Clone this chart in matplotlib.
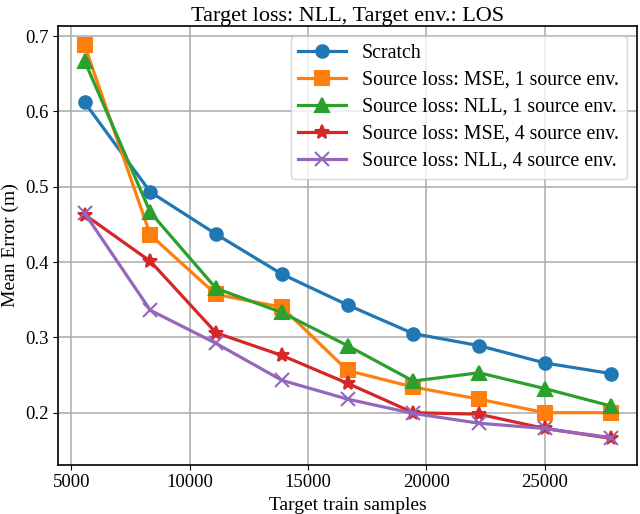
import matplotlib
matplotlib.use("Agg")
import matplotlib.pyplot as plt

plt.rcParams['font.family'] = ['Liberation Serif', 'DejaVu Serif']
plt.rcParams['mathtext.fontset'] = 'stix'

samples = [5555, 8333, 11111, 13889, 16667, 19444, 22222, 25000, 27778]
scratch = [0.612, 0.493, 0.437, 0.384, 0.343, 0.305, 0.289, 0.266, 0.252]
mse_1 = [0.688, 0.436, 0.357, 0.340, 0.256, 0.234, 0.218, 0.200, 0.200]
nll_1 = [0.667, 0.466, 0.365, 0.333, 0.289, 0.242, 0.253, 0.232, 0.209]
mse_4 = [0.463, 0.401, 0.306, 0.276, 0.239, 0.200, 0.198, 0.179, 0.166]
nll_4 = [0.465, 0.336, 0.292, 0.243, 0.218, 0.199, 0.186, 0.179, 0.167]

labels = ["Scratch",
          "Source loss: MSE, 1 source env.",
          "Source loss: NLL, 1 source env.",
          "Source loss: MSE, 4 source env.",
          "Source loss: NLL, 4 source env."]
series = [scratch, mse_1, nll_1, mse_4, nll_4]
markers = ['o', 's', '^', '*', 'x']
msizes = [9, 10, 9.5, 10, 10]
colors = ['#1f77b4', '#ff7f0e', '#2ca02c', '#d62728', '#9467bd']

fig = plt.figure(figsize=(6.4, 5.14), dpi=100)
ax = fig.add_axes([0.091, 0.096, 0.904, 0.853])
for ys, lab, m, s, c in zip(series, labels, markers, msizes, colors):
    ax.plot(samples, ys, marker=m, color=c, label=lab, lw=2.3, ms=s, mew=1.5)

ax.set_ylim(0.131, 0.713)
ax.set_yticks([0.2, 0.3, 0.4, 0.5, 0.6, 0.7])
ax.set_xticks([5000, 10000, 15000, 20000, 25000])
ax.grid(True, color='#b0b0b0', lw=1.2)
ax.set_axisbelow(True)
ax.tick_params(labelsize=13.5)
ax.set_xlabel("Target train samples", fontsize=14)
ax.set_ylabel("Mean Error (m)", fontsize=14)
ax.set_title("Target loss: NLL, Target env.: LOS", fontsize=16, pad=4)
ax.legend(loc='upper right', fontsize=14.3, handlelength=2.4, labelspacing=0.4,
          borderpad=0.4, handletextpad=0.8)
for s in ax.spines.values():
    s.set_linewidth(1.2)
fig.savefig("out.png", dpi=100)
